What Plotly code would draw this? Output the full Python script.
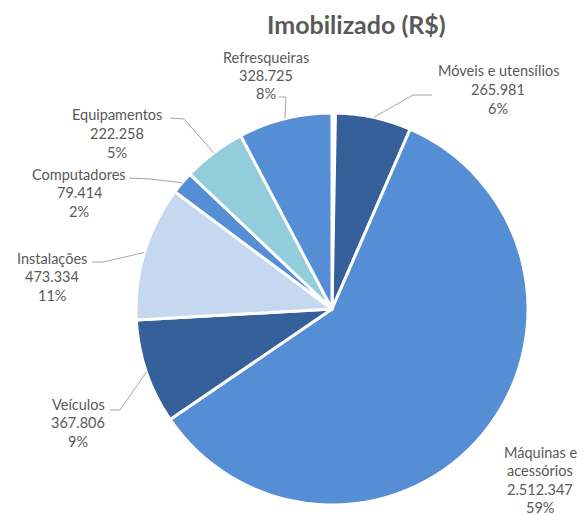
import math
import plotly.graph_objects as go

# ---- data (clockwise from 12 o'clock) ----
categorias = ["Outros", "Móveis e utensílios", "Máquinas e acessórios", "Veículos",
              "Instalações", "Computadores", "Equipamentos", "Refresqueiras"]
valores = [12000, 265981, 2512347, 367806, 473334, 79414, 222258, 328725]
cores = ["#dce6f2", "#35609a", "#558ed5", "#35609a", "#c5d8f0", "#558ed5", "#92cddc", "#558ed5"]
titulo = "Imobilizado (R$)"

# ---- layout helpers (pixels of the 586x515 view; page body has an 8px margin) ----
OFF = 8
W, H = 586 - OFF, 515 - OFF
CX, CY, R = 332, 309, 196


def px(x):
    return (x - OFF) / W


def py(y):
    return 1 - (y - OFF) / H


total = sum(valores)

fig = go.Figure(go.Pie(
    labels=categorias, values=valores, sort=False, direction="clockwise", rotation=0,
    marker=dict(colors=cores, line=dict(color="white", width=3)),
    textinfo="none", hoverinfo="label+value+percent", showlegend=False,
    domain=dict(x=[px(CX - R), px(CX + R)], y=[py(CY + R), py(CY - R)]),
))

# label placement: text center x, first line y, leader polyline (start, elbow)
label_pos = {
    "Móveis e utensílios": dict(x=498, y=71, lead=[(432, 95), (413, 95)]),
    "Máquinas e acessórios": dict(x=540, y=452, lead=None),
    "Veículos": dict(x=78, y=404, lead=[(110, 410), (120, 410)]),
    "Instalações": dict(x=52, y=258, lead=[(92, 262), (103, 262)]),
    "Computadores": dict(x=79, y=174, lead=[(129, 178), (150, 179)]),
    "Equipamentos": dict(x=117, y=115, lead=[(170, 118), (184, 119)]),
    "Refresqueiras": dict(x=266, y=57, lead=[(279, 97), (286, 97)]),
}
label_lines = {"Máquinas e acessórios": ["Máquinas e", "acessórios"]}
LINE_H = 18.5
FONT = dict(family="Lato, 'Open Sans', sans-serif", size=14.5, color="#595959")

annotations = []
shapes = []
cum = 0
for nome, v in zip(categorias, valores):
    start = cum
    cum += v
    if nome not in label_pos:
        continue
    mid = (start + v / 2) / total * 2 * math.pi
    ax, ay = CX + R * math.sin(mid), CY - R * math.cos(mid)
    pos = label_pos[nome]
    linhas = label_lines.get(nome, [nome]) + [f"{v:,}".replace(",", "."), f"{round(v / total * 100)}%"]
    for i, t in enumerate(linhas):
        annotations.append(dict(x=px(pos["x"]), y=py(pos["y"] + i * LINE_H), xref="paper", yref="paper",
                                text=t, showarrow=False, xanchor="center", yanchor="middle", font=FONT))
    if pos["lead"]:
        pts = pos["lead"] + [(ax, ay)]
        path = "M " + " L ".join(f"{px(x):.5f},{py(y):.5f}" for x, y in pts)
        shapes.append(dict(type="path", path=path, xref="paper", yref="paper",
                           line=dict(color="#a6a6a6", width=1)))

annotations.append(dict(x=px(356), y=py(24), xref="paper", yref="paper", text=f"<b>{titulo}</b>",
                        showarrow=False, xanchor="center", yanchor="middle",
                        font=dict(family="Lato, 'Open Sans', sans-serif", size=25, color="#595959")))

fig.update_layout(width=W, height=H, autosize=False, margin=dict(l=0, r=0, t=0, b=0),
                  paper_bgcolor="white", plot_bgcolor="white",
                  annotations=annotations, shapes=shapes)
fig.write_html("out.html")
